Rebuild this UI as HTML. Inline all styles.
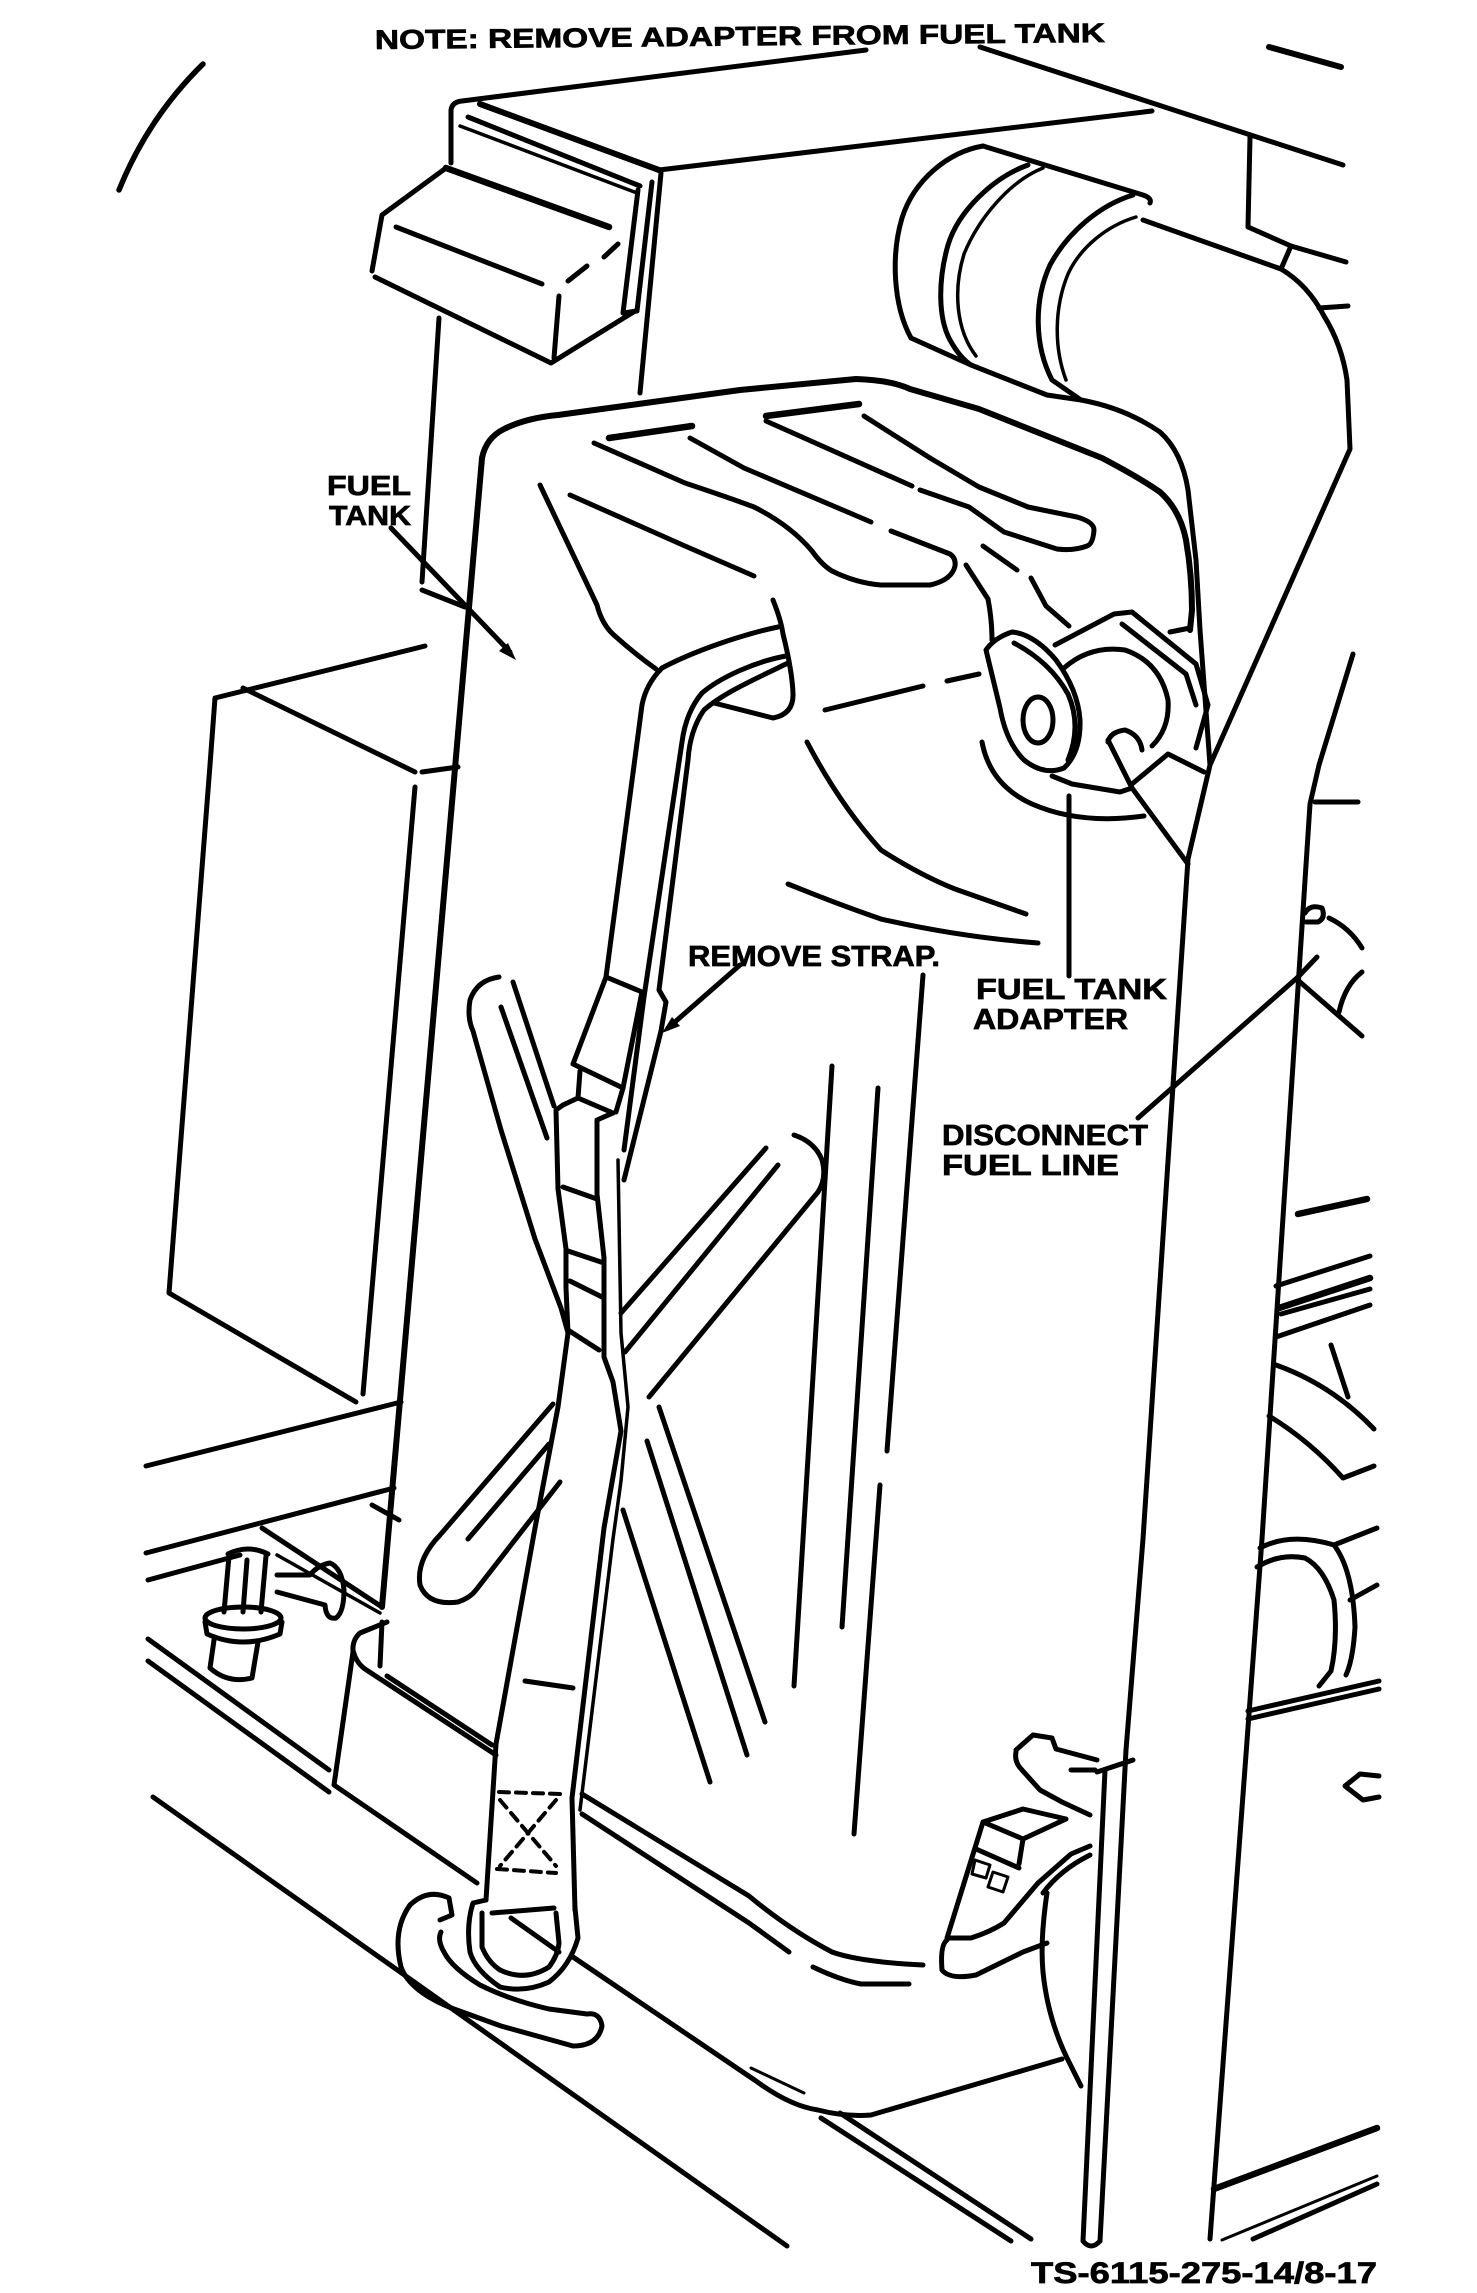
<!DOCTYPE html>
<html><head><meta charset="utf-8"><style>
html,body{margin:0;padding:0;background:#fff;}
svg{display:block;}
</style></head><body>
<svg xmlns="http://www.w3.org/2000/svg" width="1477" height="2293" viewBox="0 0 1477 2293">
<rect width="1477" height="2293" fill="#fff"/>
<g fill="none" stroke="#000" stroke-width="5" stroke-linecap="round" stroke-linejoin="round">
<!-- top-left arc -->
<path d="M203,64 Q148,118 119,190" stroke-width="5.5"/>
<!-- engine housing -->
<path d="M451,163 L451,110 Q452,102 462,101 L866,50"/>
<path d="M980,47 L1343,165"/>
<path d="M659,170 L1152,111"/>
<path d="M661,173 L640,393"/>
<path d="M480,104 L659,170" stroke-width="6"/>
<path d="M468,117 L640,186"/>
<path d="M460,126 L637,193" stroke-width="3.5"/>
<path d="M652,182 L637,311 L623,313 L638,190"/>
<path d="M446,168 L382,215 L372,271"/>
<path d="M375,277 L551,363 L635,311"/>
<path d="M446,168 L609,227" stroke-width="6.5"/>
<path d="M396,227 L542,284"/>
<path d="M559,296 L554,358"/>
<path d="M568,281 L587,266 M604,257 L618,244"/>
<path d="M439,318 L422,582 M422,590 L465,607"/>
<!-- hose -->
<path d="M983,146 C948,152 914,180 902,218 C891,255 893,305 911,338 L971,365 L1047,395 L1081,400 Q1125,408 1160,432 Q1182,452 1188,490 L1196,560 L1200,630 L1210,765"/>
<path d="M983,146 L1143,195 Q1152,198 1150,203"/>
<path d="M1028,165 C992,178 958,212 948,245 C938,280 938,318 950,340 Q960,358 971,365"/>
<path d="M1043,168 C1008,182 978,220 964,254 C953,290 956,330 976,356" stroke-width="3.5"/>
<path d="M1133,195 C1100,205 1068,232 1050,265 C1034,300 1034,345 1052,380 L1081,400"/>
<path d="M1136,217 C1106,226 1080,248 1068,274 C1054,308 1054,348 1066,380" stroke-width="3.5"/>
<path d="M1143,220 L1281,269 Q1308,285 1324,316 Q1342,345 1347,380 L1350,449 L1210,765 L1188,859 L1143,1539 L1126,1750 L1100,2241"/>
<path d="M1281,269 L1291,246 L1346,262"/>
<path d="M1250,137 L1248,227 L1291,246"/>
<path d="M1319,308 L1348,306"/>
<path d="M1269,47 L1341,67" stroke-width="6"/>
<!-- tank outline -->
<path d="M382,1607 L482,458 Q486,438 504,429 Q526,418 558,415 L740,390 L856,379 Q890,380 910,389 L979,409 L1102,458 Q1140,478 1160,492 Q1180,510 1186,540 Q1192,575 1192,610 L1190,630" stroke-width="6"/>
<path d="M387,1622 L360,1633 Q352,1640 353,1652 L334,1785 L477,1883"/>
<path d="M382,1622 L380,1666"/>
<path d="M353,1650 Q356,1664 368,1671 L496,1755"/>
<path d="M387,1676 L492,1745"/>
<path d="M582,1794 L749,1896 Q790,1930 832,1952 Q860,1962 923,1965"/>
<path d="M582,1814 L749,1923 L789,1952"/>
<path d="M813,1967 Q840,1980 861,1984 L909,1984"/>
<path d="M573,1957 L756,2081 Q790,2106 818,2110 Q845,2117 871,2115 L1062,2059"/>
<path d="M751,2068 L804,2093" stroke-width="3"/>
<path d="M153,1797 L787,2246"/>
<path d="M148,1639 L329,1770"/>
<path d="M148,1661 L329,1792"/>
<path d="M821,2118 L1011,2241"/>
<path d="M840,2113 L1031,2239"/>
<!-- left box & floor -->
<path d="M425,646 L215,698 L210,765 L169,1293 L356,1402"/>
<path d="M243,688 L415,772"/>
<path d="M415,787 L363,1394"/>
<path d="M422,772 L458,767"/>
<path d="M146,1466 L401,1402"/>
<path d="M146,1553 L394,1488"/>
<path d="M148,1580 L240,1555"/>
<path d="M372,1505 L399,1520"/>
<path d="M262,1528 L382,1607"/>
<path d="M277,1555 L380,1613" stroke-width="3.5"/>
<!-- valve -->
<path d="M229,1556 L224,1612 M266,1556 L261,1612 M247,1560 L243,1612"/>
<path d="M228,1554 Q248,1544 268,1554"/>
<ellipse cx="243" cy="1618" rx="38" ry="11"/>
<path d="M205,1622 L207,1634 Q243,1650 280,1634 L282,1622"/>
<path d="M214,1640 L210,1668 Q228,1684 252,1678 L258,1642"/>
<path d="M277,1575 L310,1575 Q318,1565 330,1563 Q342,1568 344,1590 Q344,1612 336,1618 Q326,1620 325,1605 L277,1592"/>
<!-- strap upper -->
<path d="M778,627 C740,635 692,652 662,668 Q646,684 642,705 L606,977"/>
<path d="M786,656 C758,661 722,676 702,693 Q686,712 682,742 L644,997 L624,1150"/>
<path d="M788,663 C762,676 724,692 704,710 Q690,730 688,760 L659,990 L666,1002 L661,1031 L624,1180"/>
<path d="M606,977 L642,992 L623,1088 L573,1064 Z"/>
<path d="M580,1071 L578,1098 M623,1088 L616,1112 M563,1105 L578,1098 L613,1113"/>
<path d="M563,1105 L556,1110 L558,1189 L566,1249 L566,1288 L568,1333 L558,1407 L535,1528 L496,1744 L486,1900"/>
<path d="M613,1113 L597,1120 L597,1194 L604,1258 L604,1357 L613,1382 L621,1431 L604,1528 L572,1798 L575,1910"/>
<path d="M618,1160 L621,1333 L628,1407 L621,1481 L613,1539 L580,1810" stroke-width="3.5"/>
<path d="M563,1187 L597,1199 M568,1251 L604,1263 M570,1281 L604,1298 M568,1330 L599,1350"/>
<!-- X pattern -->
<path d="M499,977 Q477,980 470,1000 Q467,1018 473,1031 L501,1130 L535,1239 L561,1308 L568,1333"/>
<path d="M513,982 L549,1091 L554,1106"/>
<path d="M501,1007 L547,1138"/>
<path d="M766,1148 L621,1313"/>
<path d="M778,1165 L625,1352"/>
<path d="M794,1135 Q815,1142 822,1160 Q827,1178 818,1192 L649,1397"/>
<path d="M553,1404 L440,1535 Q416,1560 420,1585 Q428,1606 458,1602 Q470,1598 476,1590 L560,1482"/>
<path d="M549,1444 L468,1539"/>
<path d="M659,1407 L765,1722"/>
<path d="M647,1441 L747,1755"/>
<path d="M623,1510 L710,1782"/>
<path d="M832,1066 L794,1686"/>
<path d="M878,1088 L842,1627"/>
<path d="M923,975 L887,1451 M880,1485 L854,1834"/>
<!-- lower strap -->
<path d="M499,1792 L561,1794 M497,1869 L556,1873 M500,1800 L556,1866 M556,1800 L500,1866" stroke-dasharray="10 7" stroke-width="4"/>
<path d="M492,1913 L554,1908 M511,1918 L559,1952"/>
<path d="M486,1900 L473,1903 Q466,1925 470,1952 Q475,1970 500,1987 Q525,1993 549,1982 Q570,1966 578,1938 L575,1908"/>
<path d="M482,1913 L482,1947 Q488,1962 500,1970 Q525,1982 549,1967 Q558,1955 559,1943 L556,1913"/>
<path d="M525,1681 L573,1688"/>
<!-- hook -->
<path d="M449,1898 Q428,1888 410,1905 Q392,1930 401,1967 Q410,1992 454,2009 L501,2026 Q540,2037 573,2046 Q598,2046 602,2026 Q600,2012 587,2014 L549,2009 Q510,2000 480,1985 Q452,1968 444,1952 Q437,1940 441,1932"/>
<path d="M449,1898 L452,1915 L440,1920"/>
<!-- tank top ridges -->
<path d="M609,438 L692,426" stroke-width="6.5"/>
<path d="M766,416 L859,404" stroke-width="6.5"/>
<path d="M594,443 L685,483 Q730,498 754,507 Q790,525 812,551 Q822,565 832,571 Q856,583 881,585 L930,585 Q952,580 955,566 Q956,558 950,554 L891,531"/>
<path d="M690,438 L744,468 L871,522"/>
<path d="M864,416 L930,458 L979,487 L1028,507 L1077,517 Q1094,522 1094,530 Q1093,544 1087,546 Q1074,551 1057,549 L1004,532 L969,507 L920,490"/>
<path d="M766,421 L912,486"/>
<path d="M570,495 L685,546 L754,576"/>
<path d="M773,600 Q781,620 783,634 Q792,670 793,693 Q794,714 773,718 L714,703"/>
<path d="M540,485 L597,605 Q602,625 615,636 Q635,654 656,669"/>
<path d="M983,546 L1017,570"/>
<path d="M966,565 L988,599 Q992,620 992,640"/>
<path d="M1031,578 L1046,606 L1069,626"/>
<path d="M825,710 L923,686 M947,681 L979,674"/>
<path d="M807,742 Q840,805 881,850 Q920,875 955,889 L1026,914"/>
<path d="M788,884 Q840,905 881,919 Q960,937 1038,943"/>
<!-- adapter -->
<path d="M986,650 Q994,638 1012,632 Q1034,634 1056,660 Q1078,690 1080,720 Q1081,752 1064,768 Q1044,776 1024,760 Q1006,742 1000,708 Z"/>
<path d="M1014,643 Q1050,662 1068,694 Q1082,726 1068,760"/>
<ellipse cx="1038" cy="720" rx="15" ry="23"/>
<path d="M1055,645 L1114,614 L1132,612 L1196,664 L1208,705 L1196,748"/>
<path d="M1122,624 L1186,674 L1196,705"/>
<path d="M1064,668 Q1090,645 1125,650 Q1160,662 1168,700 Q1170,728 1152,746"/>
<path d="M1108,742 Q1110,732 1125,730 Q1140,735 1142,750"/>
<path d="M1108,740 L1132,788 L1188,864"/>
<path d="M1132,784 L1168,754 L1204,772"/>
<path d="M982,742 Q990,785 1032,804 Q1080,825 1144,816"/>
<path d="M1052,776 L1072,784 L1120,792 L1132,788"/>
<path d="M1069,796 L1069,976"/>
<path d="M1170,632 L1190,628"/>
<!-- bracket -->
<path d="M1105,1770 L1083,2241 Q1091,2251 1100,2241"/>
<path d="M1097,1772 L1133,1760"/>
<!-- right post -->
<path d="M1353,654 L1319,765 L1310,804 L1262,1539 L1210,2239"/>
<path d="M1315,802 L1358,802"/>
<!-- bottom handle -->
<path d="M1016,1750 L1033,1735 L1052,1738 L1056,1749 L1097,1760"/>
<path d="M1016,1752 Q1014,1762 1022,1770 L1040,1790 L1062,1802 L1090,1815"/>
<path d="M1071,1770 L1095,1770"/>
<path d="M983,1822 L1023,1809 L1066,1819 M983,1822 L1023,1839 L1066,1819 M1023,1839 L1019,1864 M976,1849 L1019,1868 M983,1822 L947,1938 L971,1938 Q990,1932 1004,1923 L1038,1883 L1071,1854 L1090,1846"/>
<path d="M947,1940 Q940,1945 942,1970 Q950,1980 976,1975 L1023,1952 L1047,1943"/>
<path d="M1043,1893 Q1060,1870 1090,1855"/>
<path d="M1047,1893 Q1040,1940 1043,1972 Q1048,2022 1071,2066 L1081,2086"/>
<path d="M975,1860 L990,1865 L986,1878 L972,1874 Z M993,1872 L1008,1877 L1003,1892 L988,1887 Z" stroke-width="3"/>
<!-- right side details -->
<path d="M1305,913 Q1310,904 1322,908 Q1326,918 1318,922 L1306,922"/>
<path d="M1329,918 Q1350,928 1362,948"/>
<path d="M1317,957 L1298,977"/>
<path d="M1300,982 L1362,1036"/>
<path d="M1362,972 Q1345,985 1339,1012"/>
<path d="M1138,1118 L1298,977"/>
<path d="M1298,1214 L1367,1199" stroke-width="6.5"/>
<path d="M1276,1286 L1370,1256"/>
<path d="M1279,1308 L1370,1278" stroke-width="6.5"/>
<path d="M1281,1314 L1370,1289"/>
<path d="M1276,1337 L1370,1305"/>
<path d="M1276,1365 Q1332,1385 1374,1429"/>
<path d="M1331,1345 L1348,1397"/>
<path d="M1269,1416 Q1310,1441 1343,1478 L1374,1466"/>
<path d="M1257,1567 Q1280,1553 1305,1558 Q1324,1568 1334,1600 Q1338,1640 1331,1671 L1319,1686"/>
<path d="M1260,1548 Q1290,1532 1334,1545 Q1353,1570 1355,1627 Q1353,1660 1346,1675"/>
<path d="M1334,1545 L1377,1528"/>
<path d="M1350,1600 L1377,1585"/>
<path d="M1248,1711 L1379,1681 M1248,1719 L1379,1689"/>
<path d="M1345,1786 L1360,1774 L1379,1776 M1345,1786 L1363,1800 L1379,1797"/>
<path d="M1214,2189 L1377,2128" stroke-width="6.5"/>
<path d="M1253,2239 L1377,2184"/>
<path d="M1222,2240 L1377,2176" stroke-width="3"/>
<!-- leaders -->
<path d="M391,528 L510,652"/>
<path d="M740,965 L668,1028"/>
</g>
<g fill="#000" stroke="none">
<polygon points="516,660 499,651 508,643"/>
<polygon points="662,1033 680,1026 672,1017"/>
</g>
<g font-family="'Liberation Sans', sans-serif" font-weight="bold" fill="#000" stroke="#000" stroke-width="0.7">
<text x="375" y="49" font-size="27" textLength="730" lengthAdjust="spacingAndGlyphs" transform="rotate(-0.55 375 49)">NOTE:  REMOVE ADAPTER FROM FUEL TANK</text>
<text x="327" y="495" font-size="28" textLength="84" lengthAdjust="spacingAndGlyphs">FUEL</text>
<text x="329" y="525" font-size="28" textLength="82" lengthAdjust="spacingAndGlyphs">TANK</text>
<text x="688" y="966" font-size="29" textLength="252" lengthAdjust="spacingAndGlyphs">REMOVE STRAP.</text>
<text x="976" y="999" font-size="29" textLength="191" lengthAdjust="spacingAndGlyphs">FUEL TANK</text>
<text x="973" y="1029" font-size="29" textLength="155" lengthAdjust="spacingAndGlyphs">ADAPTER</text>
<text x="942" y="1145" font-size="29" textLength="206" lengthAdjust="spacingAndGlyphs">DISCONNECT</text>
<text x="942" y="1175" font-size="29" textLength="177" lengthAdjust="spacingAndGlyphs">FUEL LINE</text>
<text x="1031" y="2283" font-size="30" textLength="346" lengthAdjust="spacingAndGlyphs">TS-6115-275-14/8-17</text>
</g>
</svg>
</body></html>
